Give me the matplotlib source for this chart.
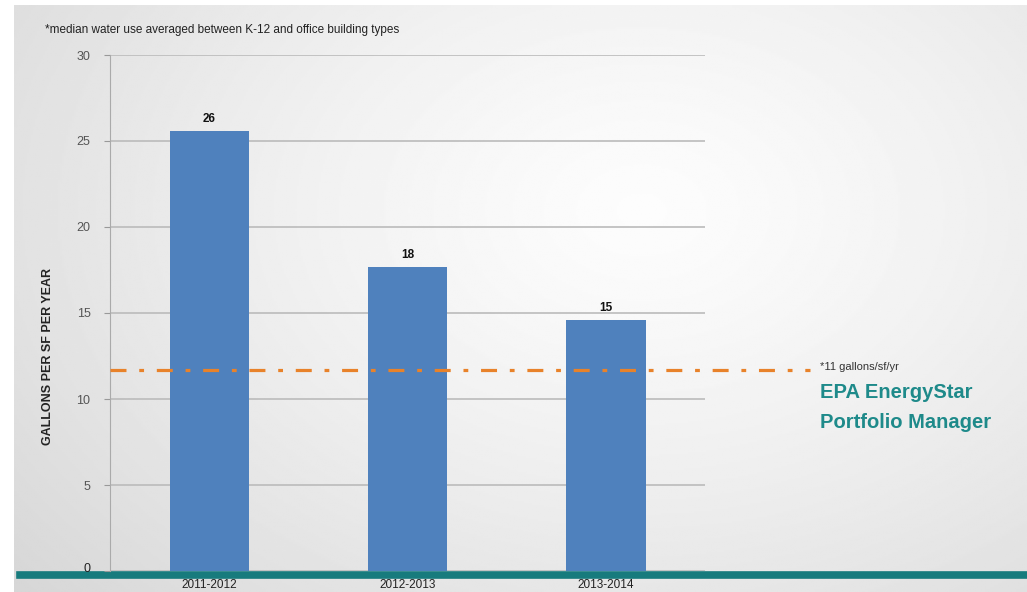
import numpy as np
import matplotlib.pyplot as plt
import matplotlib.transforms as mtransforms

# ── Data ──────────────────────────────────────────────────────────────────────
periods = ["2011-2012", "2012-2013", "2013-2014"]
gallons = [25.6, 17.7, 14.6]
value_labels = ["26", "18", "15"]
epa_benchmark = 11.7
y_ticks = [0, 5, 10, 15, 20, 25, 30]

# ── Style ─────────────────────────────────────────────────────────────────────
BAR_BLUE = "#4F81BD"
ORANGE = "#E8822A"
TEAL = "#1E8A8A"
RULE_TEAL = "#177B7D"
TICK_GREY = "#555555"

plt.rcParams["font.family"] = ["Liberation Sans", "DejaVu Sans"]

W, H = 1027, 592
fig = plt.figure(figsize=(W / 100, H / 100), dpi=100)
fig.patch.set_facecolor("white")

# gradient slide background
bg = fig.add_axes([14 / W, 0, 1 - 14 / W, 1 - 5 / H])
yy, xx = np.mgrid[0:1:300j, 0:1:500j]
r = np.sqrt(((xx - 0.62) / 0.9) ** 2 + ((yy - 0.35) / 1.1) ** 2)
shade = 0.99 - 0.17 * np.clip(r, 0, 1) ** 1.3
bg.imshow(shade, cmap="gray", vmin=0, vmax=1, aspect="auto",
          extent=[0, 1, 0, 1], origin="upper")
bg.set_axis_off()

# teal rule along the bottom of the slide (under the chart's labels)
bg.add_artist(plt.Line2D([20 / W, 1], [1 - 575 / H, 1 - 575 / H],
                         transform=fig.transFigure, color=RULE_TEAL, linewidth=5.5))

# ── Chart ─────────────────────────────────────────────────────────────────────
ax = fig.add_axes([110 / W, 1 - 571 / H, 595 / W, 516 / H])
ax.patch.set_alpha(0)

x = np.arange(len(periods))
bars = ax.bar(x, gallons, width=0.4, color=BAR_BLUE, zorder=3)

for bar, lbl in zip(bars, value_labels):
    ax.text(bar.get_x() + bar.get_width() / 2, bar.get_height() + 0.35, lbl,
            ha="center", va="bottom", fontsize=8.5, fontweight="bold", color="#111111")

ax.set_xlim(-0.5, len(periods) - 0.5)
ax.set_ylim(0, 30)
ax.set_yticks(y_ticks)
ax.tick_params(axis="y", length=4, color="#999999", labelsize=9,
               labelcolor=TICK_GREY, pad=10)
ax.set_xticks(x)
ax.set_xticklabels(periods)
ax.tick_params(axis="x", length=0, labelsize=8.5, labelcolor="#222222", pad=6)
ax.yaxis.grid(True, color="#BBBBBB", linewidth=1.2, zorder=0)
ax.set_axisbelow(True)
for side in ["top", "right", "bottom"]:
    ax.spines[side].set_visible(False)
ax.spines["left"].set_color("#AAAAAA")

# the zero label sits just above the teal rule
zero_lbl = ax.get_yticklabels()[0]
zero_lbl.set_transform(zero_lbl.get_transform() +
                       mtransforms.ScaledTranslation(0, 4 / 100, fig.dpi_scale_trans))
zero_lbl.set_color("#222222")

ax.set_ylabel("GALLONS PER SF PER YEAR", fontsize=9, fontweight="bold",
              color="#222222")
ax.yaxis.set_label_coords(-0.094, 0.415)

# EPA benchmark line (runs past the plot area)
ax.plot([-0.5, 3.03], [epa_benchmark, epa_benchmark], color=ORANGE,
        linewidth=2.3, linestyle=(0, (5, 4, 1.5, 4)), zorder=4, clip_on=False)

fig.text(820 / W, 1 - 367 / H, "*11 gallons/sf/yr", fontsize=8,
         color="#333333", va="center")
fig.text(820 / W, 1 - 393 / H, "EPA EnergyStar", fontsize=14.5,
         fontweight="bold", color=TEAL, va="center")
fig.text(820 / W, 1 - 422 / H, "Portfolio Manager", fontsize=14.5,
         fontweight="bold", color=TEAL, va="center")

fig.text(45 / W, 1 - 30 / H,
         "*median water use averaged between K-12 and office building types",
         fontsize=8.5, color="#222222", va="center")

fig.savefig("out.png", dpi=100)
